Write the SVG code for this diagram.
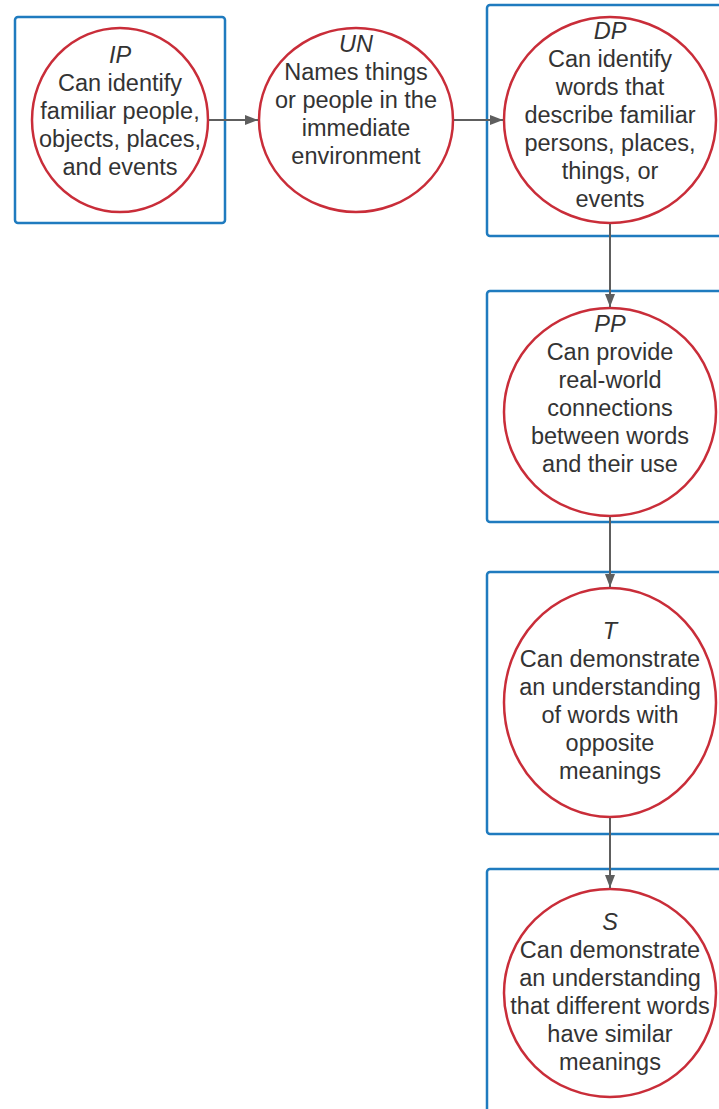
<svg xmlns="http://www.w3.org/2000/svg" width="719" height="1109" viewBox="0 0 719 1109">
<style>
.box{fill:#fff;stroke:#1f7bbf;stroke-width:2.5}
.circ{fill:#fff;stroke:#c92d39;stroke-width:2.5}
.t{font-family:"Liberation Sans",Arial,sans-serif;font-size:23.5px;fill:#333;text-anchor:middle}
.i{font-style:italic}
.c{fill:none;stroke:#5e5e5e;stroke-width:2}
</style>
<defs>
<marker id="ah" markerWidth="14" markerHeight="12" refX="13" refY="6" orient="auto" markerUnits="userSpaceOnUse">
<path d="M0,1 L13,6 L0,11 Z" fill="#5e5e5e"/>
</marker>
</defs>
<rect width="719" height="1109" fill="#fff"/>
<g id="IP">
<rect class="box" x="15" y="17" width="210" height="206" rx="3"/>
<ellipse class="circ" cx="120" cy="120" rx="88" ry="92"/>
<text class="t"><tspan class="i" x="120" y="63">IP</tspan><tspan x="120" y="91">Can identify</tspan><tspan x="120" y="119">familiar people,</tspan><tspan x="120" y="147">objects, places,</tspan><tspan x="120" y="175">and events</tspan></text>
</g>
<g id="UN">
<ellipse class="circ" cx="356" cy="120" rx="97" ry="92"/>
<text class="t"><tspan class="i" x="356" y="52">UN</tspan><tspan x="356" y="80">Names things</tspan><tspan x="356" y="108">or people in the</tspan><tspan x="356" y="136">immediate</tspan><tspan x="356" y="164">environment</tspan></text>
</g>
<g id="DP">
<rect class="box" x="487" y="5" width="260" height="231" rx="3"/>
<ellipse class="circ" cx="610" cy="120" rx="106" ry="103"/>
<text class="t"><tspan class="i" x="610" y="39">DP</tspan><tspan x="610" y="67">Can identify</tspan><tspan x="610" y="95">words that</tspan><tspan x="610" y="123">describe familiar</tspan><tspan x="610" y="151">persons, places,</tspan><tspan x="610" y="179">things, or</tspan><tspan x="610" y="207">events</tspan></text>
</g>
<g id="PP">
<rect class="box" x="487" y="291" width="260" height="231" rx="3"/>
<ellipse class="circ" cx="610" cy="412" rx="106" ry="104"/>
<text class="t"><tspan class="i" x="610" y="332">PP</tspan><tspan x="610" y="360">Can provide</tspan><tspan x="610" y="388">real-world</tspan><tspan x="610" y="416">connections</tspan><tspan x="610" y="444">between words</tspan><tspan x="610" y="472">and their use</tspan></text>
</g>
<g id="T">
<rect class="box" x="487" y="572" width="260" height="262" rx="3"/>
<ellipse class="circ" cx="610" cy="702.5" rx="106" ry="114.5"/>
<text class="t"><tspan class="i" x="610" y="639">T</tspan><tspan x="610" y="667">Can demonstrate</tspan><tspan x="610" y="695">an understanding</tspan><tspan x="610" y="723">of words with</tspan><tspan x="610" y="751">opposite</tspan><tspan x="610" y="779">meanings</tspan></text>
</g>
<g id="S">
<rect class="box" x="487" y="869" width="260" height="280" rx="3"/>
<ellipse class="circ" cx="610" cy="993" rx="106" ry="104"/>
<text class="t"><tspan class="i" x="610" y="930">S</tspan><tspan x="610" y="958">Can demonstrate</tspan><tspan x="610" y="986">an understanding</tspan><tspan x="610" y="1014">that different words</tspan><tspan x="610" y="1042">have similar</tspan><tspan x="610" y="1070">meanings</tspan></text>
</g>
<g id="connectors">
<path class="c" d="M209,120 H258" marker-end="url(#ah)"/>
<path class="c" d="M454,120 H503" marker-end="url(#ah)"/>
<path class="c" d="M610,224 V307" marker-end="url(#ah)"/>
<path class="c" d="M610,517 V587" marker-end="url(#ah)"/>
<path class="c" d="M610,818 V888" marker-end="url(#ah)"/>
</g>
</svg>
